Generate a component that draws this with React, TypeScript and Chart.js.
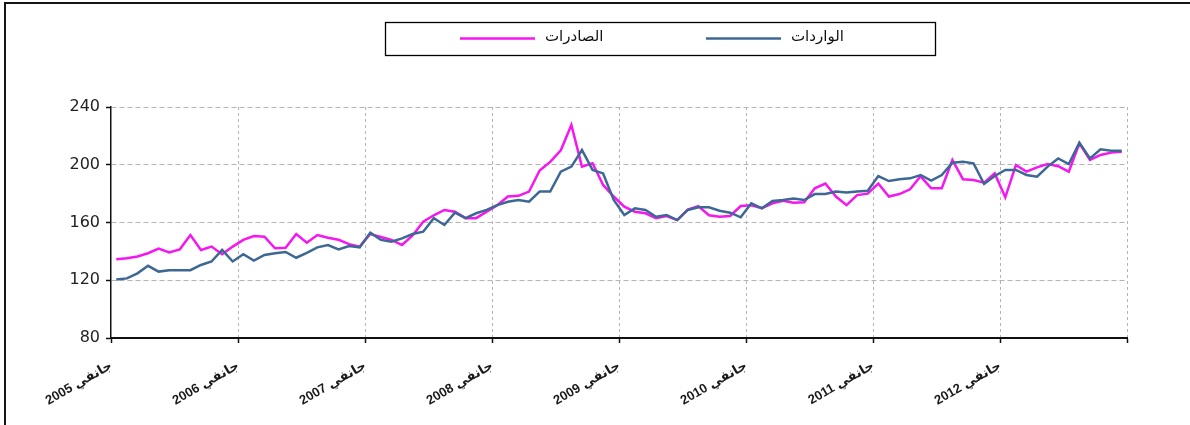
import React, { useEffect, useRef } from 'react';
import { Chart, registerables } from 'chart.js';

Chart.register(...registerables);

// ---- data ----
const YEARS = ['2005', '2006', '2007', '2008', '2009', '2010', '2011', '2012'];
const TICK_MONTH = 'جانفي';
const EXPORTS_LABEL = 'الصادرات';
const IMPORTS_LABEL = 'الواردات';
const Y_MIN = 80;
const Y_MAX = 240;
const Y_STEP = 40;

// monthly index values, Jan 2005 .. Dec 2012
const EXPORTS = [
  134.5, 135.3, 136.5, 138.7, 142.0, 139.3, 141.4, 151.3, 141.0, 143.3, 138.0, 143.3,
  148.0, 150.6, 150.2, 142.1, 142.5, 152.0, 146.0, 151.3, 149.5, 148.0, 145.0, 143.3,
  152.0, 150.0, 148.0, 144.4, 151.0, 160.6, 165.0, 168.7, 167.5, 163.0, 163.0, 167.5,
  172.0, 178.0, 178.5, 181.4, 196.0, 202.0, 210.0, 227.5, 198.7, 201.0, 186.0, 178.0,
  171.0, 167.5, 166.4, 163.0, 164.5, 161.7, 169.0, 171.4, 165.0, 164.0, 164.5, 171.4,
  172.0, 170.0, 173.3, 175.0, 173.7, 174.0, 183.7, 187.0, 178.0, 172.0, 179.0, 180.0,
  187.0, 178.0, 179.7, 183.0, 192.0, 183.7, 183.7, 203.3, 190.0, 189.4, 187.6, 194.0,
  177.4, 199.8, 195.2, 198.2, 200.5, 199.0, 195.2, 214.9, 203.3, 206.8, 208.4, 209.0,
];

const IMPORTS = [
  120.6, 121.3, 124.8, 130.0, 126.0, 127.0, 127.0, 127.0, 130.6, 133.0, 141.0, 133.0,
  138.0, 133.6, 137.5, 138.7, 139.6, 135.6, 139.0, 142.8, 144.4, 141.4, 143.7, 142.8,
  153.0, 148.0, 146.7, 149.0, 152.0, 153.6, 163.0, 158.3, 166.8, 163.0, 166.4, 168.7,
  172.0, 174.4, 175.6, 174.4, 181.4, 181.4, 195.2, 198.7, 210.2, 196.4, 194.0, 175.6,
  165.2, 169.8, 168.7, 164.0, 165.2, 161.7, 168.7, 170.5, 170.5, 168.2, 166.8, 163.6,
  173.3, 169.8, 174.9, 175.6, 176.7, 175.6, 179.7, 179.7, 181.4, 180.7, 181.4, 182.0,
  192.2, 188.7, 190.0, 190.6, 192.9, 189.0, 192.9, 201.4, 202.1, 201.0, 186.7, 192.2,
  196.4, 196.4, 192.9, 191.7, 198.7, 204.4, 200.5, 215.3, 204.4, 210.7, 209.7, 209.7,
];

const EXPORTS_COLOR = '#f516f0';
const IMPORTS_COLOR = '#3c6893';

const MONTHS_PER_YEAR = 12;

const toPoints = (arr: number[]) => arr.map((v, i) => ({ x: i + 0.5, y: v }));

const framePlugin = {
  id: 'frame',
  beforeDraw(chart: any) {
    const ctx = chart.ctx;
    ctx.save();
    ctx.fillStyle = '#ffffff';
    ctx.fillRect(0, 0, chart.width, chart.height);
    ctx.strokeStyle = '#151515';
    ctx.lineWidth = 2;
    ctx.beginPath();
    ctx.moveTo(5, chart.height);
    ctx.lineTo(5, 3);
    ctx.lineTo(chart.width, 3);
    ctx.stroke();
    ctx.restore();
  },
};

const boxLegendPlugin = {
  id: 'boxLegend',
  afterDraw(chart: any) {
    const ctx = chart.ctx;
    const ds = chart.data.datasets;
    ctx.save();
    ctx.strokeStyle = '#000';
    ctx.lineWidth = 1.3;
    ctx.strokeRect(385.5, 22.5, 550, 33);
    const items = [
      { d: ds[0], x: 460 },
      { d: ds[1], x: 706 },
    ];
    const y = 38.5;
    ctx.font = '15px "DejaVu Sans", "Liberation Sans", sans-serif';
    ctx.textBaseline = 'middle';
    ctx.textAlign = 'left';
    ctx.fillStyle = '#111';
    for (const it of items) {
      ctx.strokeStyle = it.d.borderColor;
      ctx.lineWidth = 2.5;
      ctx.beginPath();
      ctx.moveTo(it.x, y);
      ctx.lineTo(it.x + 75, y);
      ctx.stroke();
      ctx.fillText(it.d.label, it.x + 85, y - 1);
    }
    ctx.restore();
  },
};

export default function App() {
  const ref = useRef<HTMLCanvasElement | null>(null);

  useEffect(() => {
    if (!ref.current) return;
    const chart = new Chart(ref.current, {
      type: 'line',
      data: {
        datasets: [
          {
            label: EXPORTS_LABEL,
            data: toPoints(EXPORTS),
            borderColor: EXPORTS_COLOR,
            backgroundColor: EXPORTS_COLOR,
            borderWidth: 2.5,
            pointRadius: 0,
            tension: 0,
            order: 1,
          },
          {
            label: IMPORTS_LABEL,
            data: toPoints(IMPORTS),
            borderColor: IMPORTS_COLOR,
            backgroundColor: IMPORTS_COLOR,
            borderWidth: 2.5,
            pointRadius: 0,
            tension: 0,
            order: 0,
          },
        ],
      },
      options: {
        animation: false,
        responsive: false,
        devicePixelRatio: 1,
        layout: { padding: { left: 0, right: 63, top: 107, bottom: 0 } },
        plugins: {
          legend: { display: false },
          tooltip: { enabled: false },
          title: { display: false },
        },
        scales: {
          x: {
            type: 'linear',
            min: 0,
            max: YEARS.length * MONTHS_PER_YEAR,
            afterFit: (s: any) => {
              s.height = 87;
            },
            afterBuildTicks: (s: any) => {
              const t = [];
              for (let i = 0; i <= YEARS.length; i++) t.push({ value: i * MONTHS_PER_YEAR });
              s.ticks = t;
            },
            ticks: {
              autoSkip: false,
              minRotation: 30,
              maxRotation: 30,
              padding: 15,
              color: '#1a1a1a',
              font: { family: '"Liberation Sans", "DejaVu Sans", sans-serif', size: 13, weight: 'bold' },
              callback: (v: any) => {
                const idx = Math.round(Number(v) / MONTHS_PER_YEAR);
                return idx < YEARS.length ? `${TICK_MONTH} ${YEARS[idx]}` : '';
              },
            },
            grid: {
              color: (c: any) => (c.tick && c.tick.value === 0 ? 'rgba(0,0,0,0)' : '#b4b4b4'),
              lineWidth: 1,
              tickLength: 5,
              tickColor: '#111',
              tickWidth: 1.5,
            },
            border: { display: true, color: '#111', width: 2, dash: [3, 3] },
          },
          y: {
            min: Y_MIN,
            max: Y_MAX,
            afterFit: (s: any) => {
              s.width = 111;
            },
            ticks: {
              stepSize: Y_STEP,
              padding: 6,
              color: '#222',
              font: { family: '"DejaVu Sans", sans-serif', size: 16 },
            },
            grid: {
              color: (c: any) => (c.tick && c.tick.value === Y_MIN ? 'rgba(0,0,0,0)' : '#b4b4b4'),
              lineWidth: 1,
              tickLength: 5,
              tickColor: '#111',
              tickWidth: 1.5,
            },
            border: { display: true, color: '#111', width: 1.5, dash: [5, 3] },
          },
        },
      },
      plugins: [framePlugin, boxLegendPlugin],
    } as any);
    return () => chart.destroy();
  }, []);

  return (
    <div style={{ position: 'fixed', left: 0, top: 0, width: 1190, height: 425, background: '#fff' }}>
      <canvas ref={ref} width={1190} height={425} dir="rtl" style={{ width: 1190, height: 425, display: 'block' }} />
    </div>
  );
}
